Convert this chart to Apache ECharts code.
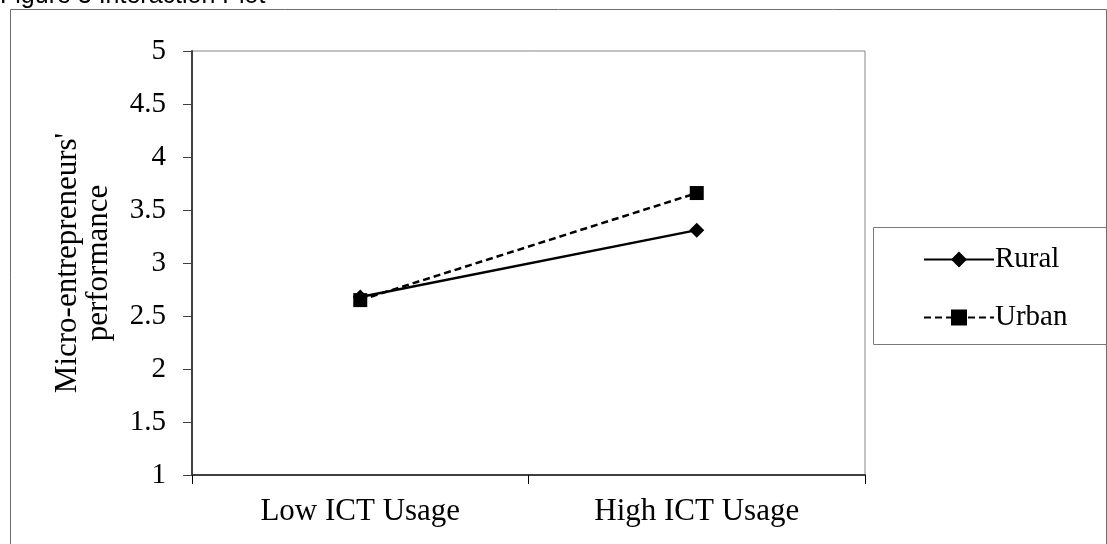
<!DOCTYPE html>
<html>
<head>
<meta charset="utf-8">
<script src="https://cdn.jsdelivr.net/npm/echarts@6/dist/echarts.min.js"></script>
<style>
  html, body { margin: 0; padding: 0; background: #fff; }
  #main { width: 1107px; height: 544px; }
</style>
</head>
<body>
<div id="main"></div>
<script>
// data
const categories = ['Low ICT Usage', 'High ICT Usage'];
const rural = [2.68, 3.31];
const urban = [2.65, 3.66];
const yTicks = { min: 1, max: 5, interval: 0.5 };

const serif = '"Liberation Serif", "Times New Roman", serif';

let chart = echarts.init(document.getElementById('main'));

chart.setOption({
      backgroundColor: '#fff',
      animation: false,
      grid: {
            left: 192,
            top: 51,
            right: 242,
            bottom: 69,
            show: true,
            borderColor: '#878787',
            borderWidth: 1
      },
      graphic: [
            {
                  // outer frame of the figure
                  type: 'rect',
                  shape: { x: 10.5, y: 9.5, width: 1096, height: 600 },
                  style: { fill: 'none', stroke: '#6e6e6e', lineWidth: 1 },
                  silent: true
            },
            {
                  type: 'text',
                  left: 0,
                  top: -16,
                  style: {
                        text: 'Figure 3 Interaction Plot',
                        font: '25px "Liberation Sans", Arial, sans-serif',
                        fill: '#000'
                  }
            },
            {
                  // legend frame
                  type: 'rect',
                  shape: { x: 873.5, y: 227.5, width: 240, height: 117 },
                  style: { fill: '#fff', stroke: '#7a7a7a', lineWidth: 1 },
                  z: -1
            }
      ],
      legend: {
            orient: 'vertical',
            left: 918,
            top: 239,
            itemWidth: 70,
            itemHeight: 20,
            itemGap: 27,
            textStyle: {
                  fontFamily: serif,
                  fontSize: 29,
                  color: '#000',
                  lineHeight: 31,
                  padding: [0, 0, 0, -4]
            },
            data: ['Rural', 'Urban']
      },
      xAxis: {
            type: 'category',
            data: categories,
            boundaryGap: true,
            axisLine: { lineStyle: { color: '#404040', width: 2 } },
            axisTick: { show: true, length: 9, alignWithLabel: false, lineStyle: { color: '#000' } },
            axisLabel: { fontFamily: serif, fontSize: 31, color: '#000', margin: 21 },
            splitLine: { show: false }
      },
      yAxis: {
            type: 'value',
            min: yTicks.min,
            max: yTicks.max,
            interval: yTicks.interval,
            name: "Micro-entrepreneurs'\nperformance",
            nameLocation: 'middle',
            nameRotate: 90,
            nameGap: 78,
            nameMoveOverlap: false,
            nameTextStyle: { fontFamily: serif, fontSize: 31, color: '#000', lineHeight: 31 },
            axisLine: { show: true, lineStyle: { color: '#404040', width: 2 } },
            axisTick: { show: true, length: 9, lineStyle: { color: '#404040' } },
            axisLabel: { fontFamily: serif, fontSize: 29, color: '#000', margin: 26 },
            splitLine: { show: false }
      },
      series: [
            {
                  name: 'Rural',
                  type: 'line',
                  data: rural,
                  symbol: 'diamond',
                  symbolSize: 15,
                  lineStyle: { color: '#000', width: 2.5 },
                  itemStyle: { color: '#000' }
            },
            {
                  name: 'Urban',
                  type: 'line',
                  data: urban,
                  symbol: 'rect',
                  symbolSize: 14,
                  lineStyle: { color: '#000', width: 2.5, type: [7, 4] },
                  itemStyle: { color: '#000' }
            }
      ]
});
</script>
</body>
</html>
